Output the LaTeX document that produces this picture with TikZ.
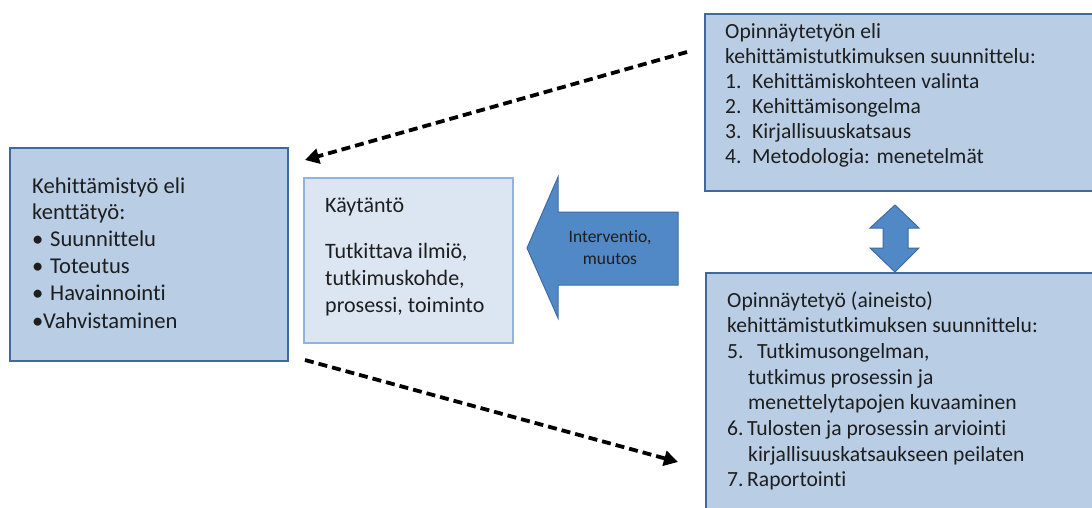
\documentclass[tikz,border=0pt]{standalone}
\usepackage{fontspec}
\setmainfont{Carlito}[Ligatures=NoCommon]
\usetikzlibrary{arrows.meta}
\definecolor{boxfill}{HTML}{B9CDE5}
\definecolor{boxline}{HTML}{41689A}
\definecolor{midfill}{HTML}{DCE6F2}
\definecolor{midline}{HTML}{8EB4E3}
\definecolor{arrfill}{HTML}{5089C6}
\definecolor{arrline}{HTML}{3D6CA3}
\definecolor{txt}{HTML}{1E1E1E}
\begin{document}
\begin{tikzpicture}[x=1pt,y=-1pt,
  bigbox/.style={draw=boxline, fill=boxfill, line width=1.8pt, inner sep=0pt, anchor=north west},
  midbox/.style={draw=midline, fill=midfill, line width=1.5pt, inner sep=0pt, anchor=north west},
  blockarrow/.style={draw=arrline, fill=arrfill, line width=1pt, line join=miter},
  dasharrow/.style={line width=3.8pt, dash pattern=on 9pt off 5pt, -{Triangle[length=14pt,width=15pt]}},
  txtblock/.style={anchor=base west, inner sep=0pt, text=txt, font=\fontsize{21.6}{25}\selectfont},
]
\useasboundingbox (0,0) rectangle (1092,508);
\clip (0,0) rectangle (1092,508);

% boxes
\node[bigbox, minimum width=278pt, minimum height=213pt] (left) at (9,147) {};
\node[midbox, minimum width=209pt, minimum height=165pt] (mid) at (303,177) {};
\node[bigbox, minimum width=400pt, minimum height=177pt] (topright) at (704,13) {};
\node[bigbox, minimum width=400pt, minimum height=250pt] (botright) at (705,272) {};

% block arrow (Interventio)
\draw[blockarrow] (527,248) -- (558,177) -- (558,212) -- (678,212) -- (678,285) -- (558,285) -- (558,318) -- cycle;
\node[anchor=center, inner sep=0pt, text=txt, font=\fontsize{17.5}{22}\selectfont] (interv) at (610,249)
  {\begin{tabular}{@{}c@{}}Interventio,\\muutos\end{tabular}};

% double arrow
\draw[blockarrow] (895,205) -- (919,228) -- (908,228) -- (908,248) -- (919,248) -- (895,272)
  -- (870,248) -- (883,248) -- (883,228) -- (870,228) -- cycle;

% dashed arrows
\coordinate (d1s) at (687,52);
\coordinate (d1e) at (305,160);
\coordinate (d2s) at (305,360);
\coordinate (d2e) at (678,462);
\draw[dasharrow] (d1s) -- (d1e);
\draw[dasharrow] (d2s) -- (d2e);

% texts
\node[txtblock, font=\fontsize{22.6}{27}\selectfont] (lefttext) at (32,193) {\begin{tabular}[t]{@{}l@{}}
Kehittämistyö eli\\
kenttätyö:\\
\makebox[18pt][l]{\textbullet}Suunnittelu\\
\makebox[18pt][l]{\textbullet}Toteutus\\
\makebox[18pt][l]{\textbullet}Havainnointi\\
\makebox[11pt][l]{\textbullet}Vahvistaminen
\end{tabular}};

\node[txtblock, font=\fontsize{22}{27}\selectfont] (midtext) at (325,212) {\begin{tabular}[t]{@{}l@{}}
Käytäntö\\[19pt]
Tutkittava ilmiö,\\
tutkimuskohde,\\
prosessi, toiminto
\end{tabular}};

\node[txtblock] (toptext) at (725,39) {\begin{tabular}[t]{@{}l@{}}
Opinnäytetyön eli\\
kehittämistutkimuksen suunnittelu:\\
\makebox[27pt][l]{1.}Kehittämiskohteen valinta\\
\makebox[27pt][l]{2.}Kehittämisongelma\\
\makebox[27pt][l]{3.}Kirjallisuuskatsaus\\
\makebox[27pt][l]{4.}Metodologia: menetelmät
\end{tabular}};

\node[txtblock, font=\fontsize{21.6}{25.7}\selectfont] (bottext) at (727,307) {\begin{tabular}[t]{@{}l@{}}
Opinnäytetyö (aineisto)\\
kehittämistutkimuksen suunnittelu:\\
\makebox[30pt][l]{5.}Tutkimusongelman,\\
\hspace*{21pt}tutkimus prosessin ja\\
\hspace*{21pt}menettelytapojen kuvaaminen\\
\makebox[20pt][l]{6.}Tulosten ja prosessin arviointi\\
\hspace*{21pt}kirjallisuuskatsaukseen peilaten\\
\makebox[20pt][l]{7.}Raportointi
\end{tabular}};
\end{tikzpicture}
\end{document}
